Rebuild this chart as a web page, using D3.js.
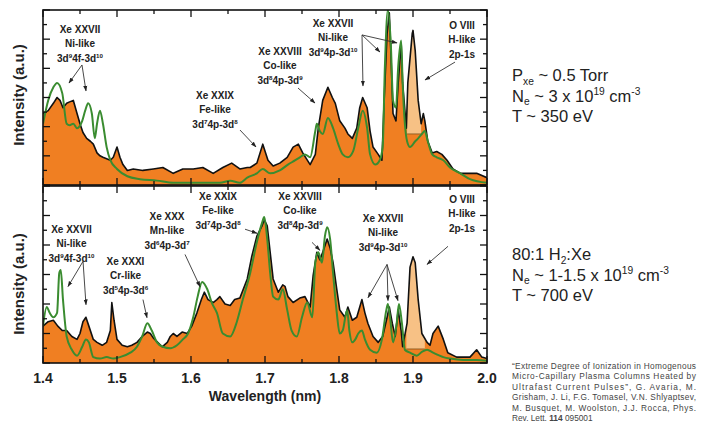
<!DOCTYPE html>
<html><head><meta charset="utf-8">
<script src="https://cdn.jsdelivr.net/npm/d3@7"></script>
<style>body{margin:0;background:#fff} svg{display:block}</style>
</head><body>
<svg id="c" width="711" height="428"></svg>
<script>
// ---------------- DATA ----------------
const wavelengthTicks = [1.4, 1.5, 1.6, 1.7, 1.8, 1.9, 2.0];
const wavelengthTickLabels = ["1.4", "1.5", "1.6", "1.7", "1.8", "1.9", "2.0"];

// Top panel: measured (black, orange fill) [wavelength nm, intensity a.u.]
const topMeasured = [
 [1.400,4.9],[1.407,5.1],[1.414,5.6],[1.419,6.0],[1.423,5.8],[1.427,5.3],[1.432,5.6],[1.436,5.7],
 [1.441,5.8],[1.446,4.9],[1.450,4.2],[1.454,3.6],[1.459,3.2],[1.464,3.0],[1.468,2.8],[1.473,2.2],
 [1.477,2.0],[1.481,1.9],[1.486,1.8],[1.491,1.7],[1.495,1.9],[1.500,2.6],[1.504,1.9],[1.508,1.4],
 [1.514,1.0],[1.522,1.1],[1.535,1.0],[1.549,1.1],[1.562,1.2],[1.576,0.8],[1.589,1.1],[1.603,1.1],
 [1.616,1.2],[1.630,0.8],[1.643,1.2],[1.655,1.5],[1.666,1.1],[1.676,1.2],[1.680,1.2],[1.689,1.5],
 [1.697,2.8],[1.704,1.7],[1.711,1.3],[1.720,1.5],[1.730,1.9],[1.738,2.6],[1.745,2.8],[1.751,2.2],
 [1.761,1.4],[1.768,2.1],[1.772,3.9],[1.778,5.8],[1.785,6.7],[1.791,6.0],[1.795,5.6],[1.801,4.4],
 [1.808,3.9],[1.812,3.5],[1.818,3.2],[1.824,3.9],[1.828,5.3],[1.832,6.0],[1.838,5.3],[1.842,3.7],
 [1.846,2.6],[1.853,2.1],[1.858,1.7],[1.861,5.8],[1.865,10.4],[1.868,11.8],[1.870,9.2],[1.873,4.9],
 [1.877,4.4],[1.880,7.0],[1.884,9.7],[1.886,7.0],[1.891,3.9],[1.893,7.0],[1.899,10.4],[1.900,10.6],
 [1.903,9.2],[1.907,5.8],[1.911,4.2],[1.914,4.9],[1.916,4.4],[1.920,3.0],[1.926,2.2],[1.932,2.3],
 [1.939,2.1],[1.946,1.7],[1.954,1.1],[1.964,0.8],[1.973,0.8],[1.986,0.8],[2.000,0.5]
];
// Top panel: simulation (green)
const topSimulated = [
 [1.400,4.2],[1.407,5.8],[1.414,6.7],[1.419,7.0],[1.426,6.3],[1.432,4.2],[1.436,4.1],[1.441,4.2],
 [1.446,3.9],[1.453,4.4],[1.457,5.1],[1.461,5.6],[1.466,4.9],[1.470,3.2],[1.473,4.2],[1.477,5.1],
 [1.481,4.2],[1.486,2.6],[1.491,1.7],[1.500,1.1],[1.514,0.6],[1.531,0.4],[1.554,0.3],[1.576,0.15],
 [1.612,0.15],[1.639,0.15],[1.653,0.3],[1.666,0.15],[1.676,0.5],[1.689,0.8],[1.697,1.1],[1.707,0.8],
 [1.720,1.0],[1.731,1.4],[1.741,1.7],[1.747,1.9],[1.754,2.1],[1.761,1.9],[1.768,3.7],[1.770,4.2],
 [1.774,3.7],[1.778,3.5],[1.785,4.6],[1.792,3.9],[1.799,2.8],[1.805,2.1],[1.812,1.9],[1.819,2.3],
 [1.826,3.9],[1.832,5.1],[1.838,3.9],[1.842,2.1],[1.849,1.4],[1.855,1.7],[1.859,2.6],[1.862,8.1],
 [1.866,12.0],[1.870,9.7],[1.873,5.8],[1.877,5.3],[1.880,8.1],[1.884,9.9],[1.886,7.0],[1.892,3.0],
 [1.896,2.6],[1.903,3.0],[1.907,3.2],[1.912,3.5],[1.916,3.7],[1.920,3.0],[1.926,2.1],[1.932,1.9],
 [1.941,1.7],[1.950,1.2],[1.964,0.8],[1.977,0.4],[2.000,0.15]
];
// Bottom panel: measured
const bottomMeasured = [
 [1.400,2.5],[1.407,2.8],[1.414,2.9],[1.420,2.5],[1.426,2.2],[1.432,2.2],[1.439,1.8],[1.446,1.6],
 [1.450,2.0],[1.454,2.8],[1.458,3.1],[1.462,2.5],[1.468,1.6],[1.473,1.4],[1.480,1.2],[1.486,1.4],
 [1.491,2.2],[1.493,4.1],[1.496,2.9],[1.500,1.6],[1.507,1.2],[1.514,1.1],[1.520,1.2],[1.527,1.4],
 [1.534,1.8],[1.541,2.1],[1.545,2.0],[1.549,1.7],[1.555,1.4],[1.561,1.1],[1.568,1.4],[1.572,1.8],
 [1.576,2.0],[1.581,1.8],[1.588,2.1],[1.595,2.0],[1.601,2.5],[1.608,3.4],[1.614,4.3],[1.618,4.8],
 [1.623,4.3],[1.630,4.1],[1.635,4.3],[1.639,4.5],[1.646,4.0],[1.653,3.9],[1.659,4.3],[1.666,4.4],
 [1.676,5.7],[1.682,7.2],[1.689,8.6],[1.696,9.3],[1.699,9.7],[1.703,9.3],[1.707,7.5],[1.711,5.7],
 [1.718,4.8],[1.724,5.3],[1.727,5.2],[1.731,4.5],[1.738,4.1],[1.747,4.4],[1.754,4.5],[1.761,3.8],
 [1.765,5.9],[1.770,7.5],[1.774,7.0],[1.778,7.5],[1.784,8.4],[1.788,7.8],[1.792,6.8],[1.797,5.0],
 [1.801,3.6],[1.808,3.1],[1.812,3.8],[1.818,2.9],[1.824,3.1],[1.831,4.3],[1.835,3.4],[1.839,2.7],
 [1.846,1.8],[1.853,1.4],[1.859,1.8],[1.865,3.1],[1.868,3.8],[1.872,2.7],[1.876,1.8],[1.880,3.6],
 [1.884,2.2],[1.886,1.1],[1.892,2.7],[1.896,6.5],[1.900,7.2],[1.903,6.8],[1.907,4.3],[1.912,2.0],
 [1.919,1.4],[1.923,1.2],[1.927,2.0],[1.934,2.5],[1.941,1.6],[1.947,0.7],[1.959,0.4],[1.968,0.4],
 [1.977,0.4],[1.986,0.9],[1.993,0.4],[2.000,0.3]
];
// Bottom panel: simulation
const bottomSimulated = [
 [1.400,2.5],[1.405,3.8],[1.409,3.4],[1.414,3.1],[1.419,3.4],[1.422,6.1],[1.424,6.3],[1.427,4.3],
 [1.432,1.8],[1.439,0.9],[1.446,0.5],[1.453,1.1],[1.458,1.6],[1.462,1.4],[1.468,0.4],[1.477,0.3],
 [1.486,0.4],[1.495,0.3],[1.504,0.4],[1.518,0.7],[1.527,1.1],[1.534,1.8],[1.541,2.7],[1.547,2.2],
 [1.554,1.4],[1.562,1.1],[1.572,1.0],[1.581,1.2],[1.589,1.6],[1.596,2.0],[1.603,3.1],[1.609,4.5],
 [1.615,5.5],[1.622,5.0],[1.628,4.1],[1.635,3.4],[1.643,2.0],[1.653,1.8],[1.662,2.8],[1.670,4.3],
 [1.680,6.1],[1.689,8.2],[1.696,9.5],[1.699,9.9],[1.703,8.4],[1.707,6.1],[1.711,4.5],[1.718,4.3],
 [1.724,5.0],[1.730,3.6],[1.736,2.2],[1.743,1.8],[1.750,3.1],[1.757,4.1],[1.764,3.1],[1.768,6.8],
 [1.772,7.5],[1.777,6.8],[1.781,8.6],[1.784,9.2],[1.788,8.4],[1.792,6.1],[1.797,3.4],[1.801,2.0],
 [1.805,2.2],[1.811,3.6],[1.814,2.2],[1.818,1.4],[1.822,1.6],[1.826,2.0],[1.831,2.2],[1.835,1.6],
 [1.842,0.9],[1.851,0.7],[1.858,1.6],[1.864,3.6],[1.866,4.0],[1.869,3.1],[1.873,1.4],[1.878,2.7],
 [1.881,4.0],[1.885,2.7],[1.889,0.9],[1.896,0.7],[1.905,0.5],[1.912,0.75],[1.919,0.9],[1.927,0.7],
 [1.941,0.4],[1.950,0.3],[1.968,0.2],[1.986,0.2],[2.000,0.15]
];
// O VIII 2p-1s highlighted region: [from nm, to nm, baseline]
const topOVIII = [1.892, 1.911, 3.5];
const bottomOVIII = [1.891, 1.916, 0.95];

// Line identification labels (text anchor, arrow tail, arrow heads in data coords)
const topLabels = [
 {lines:["Xe XXVII","Ni-like","3d^{9}4f-3d^{10}"], at:[1.450,10.70], from:[1.4527,8.23], to:[[1.4351,6.99],[1.4581,6.45]]},
 {lines:["Xe XXIX","Fe-like","3d^{7}4p-3d^{8}"], at:[1.6324,6.17], from:[1.6662,3.77], to:[[1.6878,2.61]]},
 {lines:["Xe XXVIII","Co-like","3d^{8}4p-3d^{9}"], at:[1.7203,9.19], from:[1.7446,6.65], to:[[1.7676,5.62]]},
 {lines:["Xe XXVII","Ni-like","3d^{9}4p-3d^{10}"], at:[1.7919,11.11], from:[1.8311,10.29], to:[[1.8324,6.79],[1.8554,9.12],[1.8784,9.74]]},
 {lines:["O VIII","H-like","2p-1s"], at:[1.9662,10.97], from:[1.9568,8.43], to:[[1.9162,7.2]]}
];
const bottomLabels = [
 {lines:["Xe XXVII","Ni-like","3d^{9}4f-3d^{10}"], at:[1.4385,9.07], from:[1.4541,6.89], to:[[1.4338,5.18],[1.4581,3.95]]},
 {lines:["Xe XXXI","Cr-like","3d^{5}4p-3d^{6}"], at:[1.5115,6.89], from:[1.5351,4.30], to:[[1.5405,3.07]]},
 {lines:["Xe XXX","Mn-like","3d^{6}4p-3d^{7}"], at:[1.5676,9.95], from:[1.5919,7.36], to:[[1.6122,5.18]]},
 {lines:["Xe XXIX","Fe-like","3d^{7}4p-3d^{8}"], at:[1.6365,11.32], from:[1.6730,9.07], to:[[1.6892,8.80]]},
 {lines:["Xe XXVIII","Co-like","3d^{8}4p-3d^{9}"], at:[1.7473,11.32], from:[1.7635,8.18], to:[[1.7743,7.64]]},
 {lines:["Xe XXVII","Ni-like","3d^{9}4p-3d^{10}"], at:[1.8595,9.82], from:[1.8649,6.68], to:[[1.8392,4.43],[1.8662,4.23],[1.8797,4.23]]},
 {lines:["O VIII","H-like","2p-1s"], at:[1.9662,11.11], from:[1.9473,7.91], to:[[1.9189,6.68]]}
];
const topConditions = ["P_{xe} ~ 0.5 Torr", "N_{e} ~ 3 x 10^{19} cm^{-3}", "T ~ 350 eV"];
const bottomConditions = ["80:1 H_{2}:Xe", "N_{e} ~ 1-1.5 x 10^{19} cm^{-3}", "T ~ 700 eV"];
const citationLines = [
 "\u201CExtreme Degree of Ionization in Homogenous",
 "Micro-Capillary Plasma Columns Heated by",
 "Ultrafast Current Pulses\u201D, G. Avaria, M.",
 "Grisham, J. Li, F.G. Tomasel, V.N. Shlyaptsev,",
 "M. Busquet, M. Woolston, J.J. Rocca, Phys."
];
const citationLast = ["Rev. Lett. ", "114", " 095001"];

// ---------------- DRAW ----------------
const svg = d3.select("#c");
const FONT = "'Liberation Sans', Arial, Helvetica, sans-serif";
const ORANGE = "#F07F22", GREEN = "#3A8C30", TAN = "#F7C185";
const X0 = 43, X1 = 487;
const x = d3.scaleLinear().domain([1.4, 2.0]).range([X0, X1]);
const panels = [
  {measured: topMeasured, sim: topSimulated, ov: topOVIII, labels: topLabels, y: d3.scaleLinear().domain([0, 12]).range([185, 10]), id: "t", titleY: 95},
  {measured: bottomMeasured, sim: bottomSimulated, ov: bottomOVIII, labels: bottomLabels, y: d3.scaleLinear().domain([0, 12]).range([363, 186]), id: "b", titleY: 284}
];

const defs = svg.append("defs");
defs.append("marker").attr("id", "arr").attr("viewBox", "0 0 10 10").attr("refX", 9).attr("refY", 5)
  .attr("markerWidth", 6.5).attr("markerHeight", 6.5).attr("orient", "auto-start-reverse")
  .append("path").attr("d", "M0,1.5 L10,5 L0,8.5 Z").attr("fill", "#222");

function rich(textSel, str, size) {
  const parts = str.split(/(\^\{[^}]*\}|_\{[^}]*\})/).filter(s => s.length);
  let cur = 0;
  parts.forEach(p => {
    let t = p, fs = size, off = 0;
    if (p.startsWith("^{")) { t = p.slice(2, -1); fs = size * 0.62; off = -size * 0.4; }
    else if (p.startsWith("_{")) { t = p.slice(2, -1); fs = size * 0.62; off = size * 0.22; }
    textSel.append("tspan").attr("font-size", fs).attr("dy", off - cur).text(t);
    cur = off;
  });
}

function interp(data, wl) {
  for (let i = 1; i < data.length; i++) {
    if (data[i][0] >= wl) {
      const [a, va] = data[i - 1], [b, vb] = data[i];
      return va + (vb - va) * (wl - a) / (b - a);
    }
  }
  return data[data.length - 1][1];
}

panels.forEach(P => {
  const y = P.y;
  const [yb, yt] = y.range();
  defs.append("clipPath").attr("id", "clip" + P.id).append("rect")
    .attr("x", X0).attr("y", yt).attr("width", X1 - X0).attr("height", yb - yt);
  const g = svg.append("g").attr("clip-path", `url(#clip${P.id})`);

  const area = d3.area().x(d => x(d[0])).y0(y(0)).y1(d => y(d[1]));
  g.append("path").datum(P.measured).attr("d", area).attr("fill", ORANGE);

  // O VIII highlighted region
  const [a, b, base] = P.ov;
  const seg = [[a, interp(P.measured, a)]].concat(P.measured.filter(d => d[0] > a && d[0] < b), [[b, interp(P.measured, b)]]);
  g.append("path").datum(seg)
    .attr("d", d3.area().x(d => x(d[0])).y0(y(base)).y1(d => y(Math.max(d[1], base))))
    .attr("fill", TAN);
  g.append("line").attr("x1", x(a)).attr("x2", x(b)).attr("y1", y(base)).attr("y2", y(base))
    .attr("stroke", "#8a5a20").attr("stroke-width", 0.9);

  g.append("path").datum(P.measured)
    .attr("d", d3.line().x(d => x(d[0])).y(d => y(d[1])))
    .attr("fill", "none").attr("stroke", "#111").attr("stroke-width", 1.6).attr("stroke-linejoin", "round");
  g.append("path").datum(P.sim)
    .attr("d", d3.line().curve(d3.curveMonotoneX).x(d => x(d[0])).y(d => y(d[1])))
    .attr("fill", "none").attr("stroke", GREEN).attr("stroke-width", 2);

  // frame
  svg.append("rect").attr("x", X0).attr("y", yt).attr("width", X1 - X0).attr("height", yb - yt)
    .attr("fill", "none").attr("stroke", "#111").attr("stroke-width", 1.6);

  // ticks inward on all sides
  const tg = svg.append("g").attr("stroke", "#111").attr("stroke-width", 1.3);
  const xt = d3.range(0, 13).map(i => 1.4 + i * 0.05);
  xt.forEach((v, i) => {
    const L = i % 2 === 0 ? 7 : 4;
    tg.append("line").attr("x1", x(v)).attr("x2", x(v)).attr("y1", yb).attr("y2", yb - L);
    tg.append("line").attr("x1", x(v)).attr("x2", x(v)).attr("y1", yt).attr("y2", yt + L);
  });
  y.ticks(12).forEach(v => {
    const L = v % 2 === 0 ? 7 : 4;
    tg.append("line").attr("x1", X0).attr("x2", X0 + L).attr("y1", y(v)).attr("y2", y(v));
    tg.append("line").attr("x1", X1).attr("x2", X1 - L).attr("y1", y(v)).attr("y2", y(v));
  });

  // y title
  svg.append("text").attr("transform", `translate(24,${P.titleY}) rotate(-90)`)
    .attr("text-anchor", "middle").attr("font-family", FONT).attr("font-weight", "bold")
    .attr("font-size", 15).attr("fill", "#222").text("Intensity (a.u.)");

  // labels
  P.labels.forEach(L => {
    L.lines.forEach((ln, i) => {
      const t = svg.append("text").attr("x", x(L.at[0])).attr("y", y(L.at[1]) + 3.6 + i * 14.5)
        .attr("text-anchor", "middle").attr("font-family", FONT).attr("font-weight", "bold")
        .attr("font-size", 10).attr("fill", "#222");
      rich(t, ln, 10);
    });
    L.to.forEach(tp => {
      svg.append("line").attr("x1", x(L.from[0])).attr("y1", y(L.from[1]))
        .attr("x2", x(tp[0])).attr("y2", y(tp[1])).attr("stroke", "#333").attr("stroke-width", 0.9)
        .attr("marker-end", "url(#arr)");
    });
  });
});

// x tick labels
wavelengthTicks.forEach((v, i) => {
  svg.append("text").attr("x", x(v)).attr("y", 383).attr("text-anchor", "middle")
    .attr("font-family", FONT).attr("font-weight", "bold").attr("font-size", 14).attr("fill", "#222")
    .text(wavelengthTickLabels[i]);
});
svg.append("text").attr("x", (X0 + X1) / 2).attr("y", 401).attr("text-anchor", "middle")
  .attr("font-family", FONT).attr("font-weight", "bold").attr("font-size", 14).attr("fill", "#222")
  .text("Wavelength (nm)");

// conditions
[[topConditions, 81], [bottomConditions, 260]].forEach(([arr, y0]) => {
  arr.forEach((s, i) => {
    const t = svg.append("text").attr("x", 512).attr("y", y0 + i * 20.5)
      .attr("font-family", FONT).attr("font-size", 16.5).attr("fill", "#222");
    rich(t, s, 16.5);
  });
});

// citation
citationLines.forEach((s, i) => {
  svg.append("text").attr("x", 512).attr("y", 369 + i * 10.4)
    .attr("font-family", FONT).attr("font-size", 8.3).attr("fill", "#444")
    .attr("textLength", 184).attr("lengthAdjust", "spacing").text(s);
});
const cl = svg.append("text").attr("x", 512).attr("y", 369 + 5 * 10.4)
  .attr("font-family", FONT).attr("font-size", 8.3).attr("fill", "#444");
citationLast.forEach((s, i) => cl.append("tspan").attr("font-weight", i === 1 ? "bold" : "normal").text(s));
</script>
</body></html>
